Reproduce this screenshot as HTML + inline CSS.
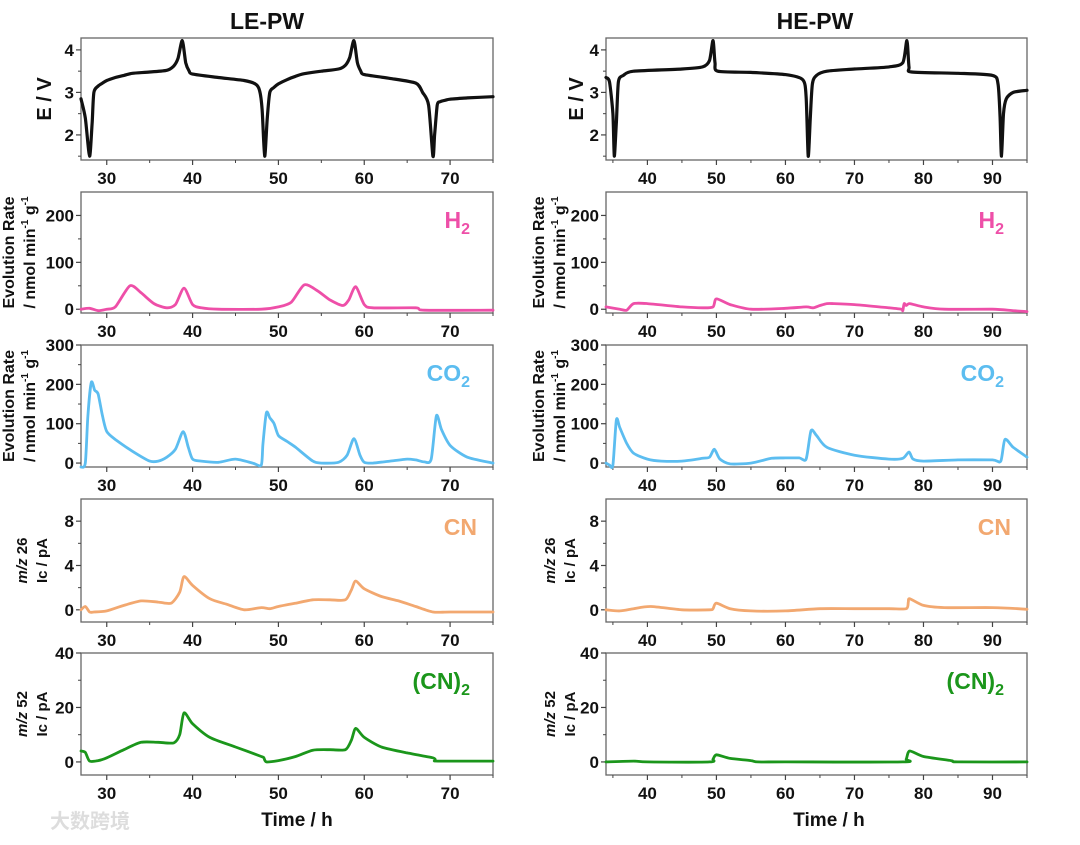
<!DOCTYPE html>
<html><head><meta charset="utf-8"><style>
body{margin:0;background:#fff}
svg text{font-family:"Liberation Sans",Arial,sans-serif;font-weight:bold;fill:#111}
</style></head><body>
<svg id="c" width="1080" height="840" viewBox="0 0 1080 840" xmlns="http://www.w3.org/2000/svg"></svg>
<script>
// ---- data ----
const eLeftT=[27,27.5,28,28.3,28.5,29,29.5,30,31,32,33,35,37,37.8,38.3,38.8,39.2,39.6,40,43,46,47.3,47.8,48.1,48.4,48.7,49,49.5,50,51,52,53,55,57,57.8,58.3,58.8,59.2,59.6,60,63,66,66.8,67.5,68,68.2,68.5,68.8,69.5,70,72,75];
const eLeftV=[2.85,2.4,1.5,2.3,3.0,3.15,3.22,3.28,3.35,3.4,3.45,3.48,3.52,3.62,3.8,4.22,3.7,3.5,3.43,3.35,3.28,3.2,3.05,2.6,1.5,2.4,3.0,3.12,3.2,3.3,3.38,3.44,3.5,3.55,3.64,3.82,4.22,3.7,3.5,3.42,3.33,3.22,3.0,2.7,1.5,2.0,2.7,2.78,2.82,2.84,2.87,2.9];
const eRightT=[34,34.5,35,35.2,35.5,35.8,36.5,38,45,48,49,49.5,49.8,50.2,55,60,62.5,63,63.3,63.6,63.9,64.5,66,70,75,77,77.6,77.9,78.3,85,90,90.8,91.1,91.3,91.6,92,93,95];
const eRightV=[3.35,3.25,2.5,1.5,2.3,3.25,3.4,3.5,3.55,3.6,3.75,4.22,3.7,3.5,3.47,3.42,3.3,2.9,1.5,2.4,3.2,3.4,3.5,3.55,3.6,3.7,4.22,3.6,3.48,3.45,3.4,3.2,2.4,1.5,2.5,2.85,3.0,3.05];
const h2LeftT=[27,28,29,30,31,32.7,34,35.5,37,38,39,40,41,43,48,50,51.5,53,54.5,56,57.5,58.2,59,60,61,66,67,75];
const h2LeftV=[0,2,-3,0,5,50,35,12,3,10,45,10,3,0,0,5,15,52,40,20,8,20,48,10,3,3,-2,-2];
const h2RightT=[34,36,37,38,40,45,48,49.5,50,52,55,60,63,64,65,66,67,70,75,76.8,77,77.2,77.5,78,80,83,90,93,95];
const h2RightV=[5,0,-2,12,12,5,3,5,22,10,0,2,5,3,8,12,12,10,3,0,-3,12,8,12,5,0,0,-3,-5];
const co2LeftT=[27,27.5,27.8,28.2,28.6,29,29.5,30,31,33,35,36,37,38,38.9,39.5,40,41,43,45,47,48,48.2,48.6,49,49.5,50,51,52,54,55,57,58,58.8,59.5,60,61,63,65,66,67,67.8,68.4,69,70,72,75];
const co2LeftV=[-10,0,120,205,185,175,120,80,60,30,5,5,15,35,80,40,10,5,2,10,0,-5,50,128,115,100,70,55,40,5,0,2,20,62,20,2,0,5,10,8,3,10,120,85,45,15,0];
const co2RightT=[34,34.5,35,35.5,36,37,38,40,42,45,48,49,49.7,50.5,52,55,58,60,62,63,63.7,64.5,66,70,75,77,77.9,78.5,80,85,90,91.2,91.8,93,95];
const co2RightV=[0,-5,-5,110,90,50,25,10,5,5,12,15,35,10,-2,0,12,13,13,10,82,70,40,20,10,12,28,10,5,8,8,5,60,40,15];
const cnLeftT=[27,27.5,28,28.5,30,32,34,36,37.5,38.5,39,40,42,44,46,48,49,50,52,54,56,57.8,58.5,59,60,62,64,66,68,70,75];
const cnLeftV=[0,0.3,-0.2,-0.2,-0.1,0.4,0.8,0.7,0.6,1.6,3.0,2.2,1.0,0.5,0,0.2,0.1,0.3,0.6,0.9,0.9,0.9,1.8,2.6,1.9,1.2,0.8,0.3,-0.2,-0.2,-0.2];
const cnRightT=[34,36,38,40.5,45,49,49.5,50,52,55,60,65,70,75,77.5,77.8,78,80,83,90,95];
const cnRightV=[0,-0.1,0.1,0.3,0,0,0.1,0.6,0.1,-0.1,-0.1,0.1,0.1,0.1,0.1,0.7,1.0,0.4,0.2,0.2,0.05];
const c2LeftT=[27,27.5,28,29,30,32,34,36,37.8,38.5,39,40,42,45,48,48.3,48.6,50,52,54,56,57.8,58.5,59,60,62,65,68,68.3,68.6,75];
const c2LeftV=[4,3.5,0.3,0.5,1.5,4.5,7.2,7.2,7,10,18,14,9,5.5,2,1.5,0,0.5,2,4.3,4.5,4.5,8,12.3,9,5.5,3.3,1.5,0.5,0.3,0.3];
const c2RightT=[34,38,40,49,49.5,50,52,55,56,60,77,77.5,78,80,84,85,95];
const c2RightV=[0,0.3,0,0,1,2.6,1.3,0.5,0,0,0,1,4,2,0.5,0,0];
const xTicksLeft=[30,40,50,60,70];
const xTicksRight=[40,50,60,70,80,90];

const svg=document.getElementById('c');
const NS='http://www.w3.org/2000/svg';
function mk(tag,attrs,parent){const e=document.createElementNS(NS,tag);for(const k in attrs)e.setAttribute(k,attrs[k]);(parent||svg).appendChild(e);return e;}
function smooth(pts){
 let d='M'+pts[0][0].toFixed(1)+','+pts[0][1].toFixed(1);
 const k=1/8;
 for(let i=0;i<pts.length-1;i++){
  const p0=pts[Math.max(0,i-1)],p1=pts[i],p2=pts[i+1],p3=pts[Math.min(pts.length-1,i+2)];
  const c1x=p1[0]+(p2[0]-p0[0])*k,c1y=p1[1]+(p2[1]-p0[1])*k;
  const c2x=p2[0]-(p3[0]-p1[0])*k,c2y=p2[1]-(p3[1]-p1[1])*k;
  d+=`C${c1x.toFixed(1)},${c1y.toFixed(1)} ${c2x.toFixed(1)},${c2y.toFixed(1)} ${p2[0].toFixed(1)},${p2[1].toFixed(1)}`;
 }
 return d;
}

const cols=[{x0:81,x1:493,d:[27,75],ticks:xTicksLeft,minor:[35,45,55,65,75],side:'left'},
            {x0:606,x1:1027,d:[34,95],ticks:xTicksRight,minor:[35,45,55,65,75,85,95],side:'right'}];
const rows=[
 {y0:38,y1:160,d:[1.41,4.28],ticks:[2,3,4],minor:[1.5,2.5,3.5],color:'#111',name:'potential',sw:3.2,
  data:[[eLeftT,eLeftV],[eRightT,eRightV]]},
 {y0:192,y1:313,d:[-8,250],ticks:[0,100,200],minor:[50,150],color:'#ee4fa8',name:'h2',sw:2.8,
  data:[[h2LeftT,h2LeftV],[h2RightT,h2RightV]]},
 {y0:345,y1:467,d:[-10,300],ticks:[0,100,200,300],minor:[50,150,250],color:'#5cbdf0',name:'co2',sw:2.8,
  data:[[co2LeftT,co2LeftV],[co2RightT,co2RightV]]},
 {y0:499,y1:622,d:[-1.1,10],ticks:[0,4,8],minor:[2,6],color:'#f2a870',name:'cn',sw:2.8,
  data:[[cnLeftT,cnLeftV],[cnRightT,cnRightV]]},
 {y0:653,y1:775,d:[-4.8,40],ticks:[0,20,40],minor:[10,30],color:'#1b961b',name:'cn2',sw:2.8,
  data:[[c2LeftT,c2LeftV],[c2RightT,c2RightV]]}
];

cols.forEach((c,ci)=>{
 rows.forEach((r,ri)=>{
  const g=mk('g',{});
  
  
  const sx=t=>c.x0+(t-c.d[0])/(c.d[1]-c.d[0])*(c.x1-c.x0);
  const sy=v=>r.y1-(v-r.d[0])/(r.d[1]-r.d[0])*(r.y1-r.y0);
  const box=mk('rect',{x:c.x0,y:r.y0,width:c.x1-c.x0,height:r.y1-r.y0,fill:'none',stroke:'#666','stroke-width':1.3},g);
  
  
  c.ticks.forEach(t=>{
   mk('line',{x1:sx(t),x2:sx(t),y1:r.y1,y2:r.y1+5,stroke:'#444','stroke-width':1.2},g);
   const tx=mk('text',{x:sx(t),y:r.y1+24,'text-anchor':'middle','font-size':17},g);
   tx.textContent=t;
   
   
  });
  c.minor.forEach(t=>{ if(t<=c.d[1]) mk('line',{x1:sx(t),x2:sx(t),y1:r.y1,y2:r.y1+3,stroke:'#444','stroke-width':1},g);});
  r.ticks.forEach(v=>{
   mk('line',{x1:c.x0-5,x2:c.x0,y1:sy(v),y2:sy(v),stroke:'#444','stroke-width':1.2},g);
   const tx=mk('text',{x:c.x0-7,y:sy(v)+6,'text-anchor':'end','font-size':17},g);
   tx.textContent=v;
   
   
  });
  r.minor.forEach(v=>{ if(v>=r.d[0]&&v<=r.d[1]) mk('line',{x1:c.x0-3,x2:c.x0,y1:sy(v),y2:sy(v),stroke:'#444','stroke-width':1},g);});
  const [T,V]=r.data[ci];
  const pts=T.map((t,i)=>[sx(t),sy(V[i])]);
  const p=mk('path',{d:smooth(pts),fill:'none',stroke:r.color,'stroke-width':r.sw,'stroke-linejoin':'round','stroke-linecap':'round'},g);
  
  
  if(ri>0){
   const lx=c.x1-23, ly=r.y0+36;
   const lab=mk('text',{x:lx,y:ly,'text-anchor':'end','font-size':23,style:'fill:'+r.color},g);
   
   
   if(r.name==='h2'){lab.innerHTML='H<tspan font-size="16" dy="6">2</tspan>';}
   else if(r.name==='co2'){lab.innerHTML='CO<tspan font-size="16" dy="6">2</tspan>';}
   else if(r.name==='cn'){lab.textContent='CN'; lab.setAttribute('x',c.x1-16);}
   else {lab.innerHTML='(CN)<tspan font-size="16" dy="6">2</tspan>';}
  }
  const yc=(r.y0+r.y1)/2;
  const yl=mk('text',{'text-anchor':'middle'},g);
  
  
  if(ri===0){
   const x=ci===0?51:583;
   yl.setAttribute('transform',`translate(${x},${yc}) rotate(-90)`);
   yl.setAttribute('font-size',20);
   yl.textContent='E / V';
  } else if(ri<3){
   const x=ci===0?14:544;
   yl.setAttribute('transform',`translate(${x},${yc}) rotate(-90)`);
   yl.setAttribute('font-size',16);
   yl.innerHTML=`<tspan x="0" dy="0">Evolution Rate</tspan><tspan x="0" dy="21">/ nmol min<tspan font-size="10" dy="-7">-1</tspan><tspan dy="7"> g</tspan><tspan font-size="10" dy="-7">-1</tspan></tspan>`;
  } else {
   const x=ci===0?27:555;
   yl.setAttribute('transform',`translate(${x},${yc}) rotate(-90)`);
   yl.setAttribute('font-size',15);
   yl.innerHTML=`<tspan x="0" dy="0"><tspan font-style="italic">m/z</tspan> ${ri===3?26:52}</tspan><tspan x="0" dy="20">Ic / pA</tspan>`;
  }
 });
});
function title(txt,x,y,fs,name){const t=mk('text',{x:x,y:y,'text-anchor':'middle','font-size':fs});t.textContent=txt;
 
 }
title('LE-PW',267,29,23,'left-title');
title('HE-PW',815,29,23,'right-title');
title('Time / h',297,826,19,'left-x-axis-title');
title('Time / h',829,826,19,'right-x-axis-title');
const wm=mk('text',{x:50,y:828,'font-size':20,style:'fill:#ddd;font-family:\"Liberation Sans\",\"Noto Sans CJK SC\",sans-serif'});
wm.textContent='大数跨境';


</script>
</body></html>
